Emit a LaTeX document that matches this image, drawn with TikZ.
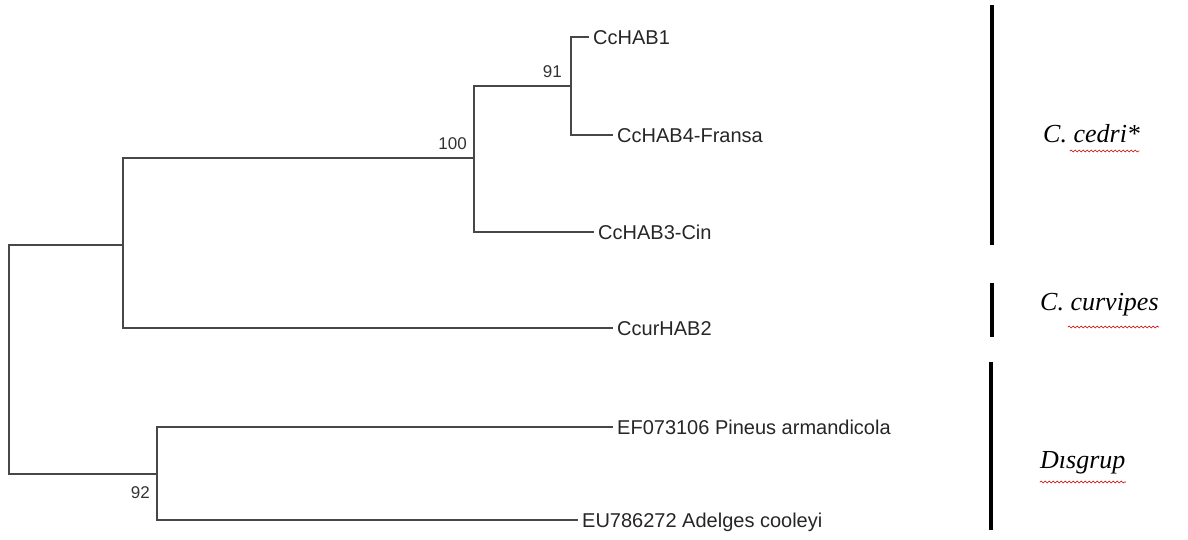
\documentclass[tikz,border=0pt]{standalone}
\usepackage{fontspec}
\setmainfont{Liberation Sans}
\newfontfamily\cladefont{Liberation Serif}
\usetikzlibrary{decorations.pathmorphing}

\begin{document}
\begin{tikzpicture}[
    x=1pt, y=-1pt,
    line cap=rect,
    branch/.style={draw=black!72, line width=1.7pt},
    leaf/.style={anchor=west, inner xsep=5pt, inner ysep=0pt,
        text height=14.3pt, text depth=0pt, text=black!85,
        font=\fontsize{20}{24}\selectfont},
    boot/.style={inner sep=0pt, text height=12.5pt, text depth=0pt,
        text=black!80, font=\fontsize{17}{20}\selectfont},
    clade/.style={anchor=base west, inner sep=0pt,
        font=\cladefont\itshape\fontsize{26}{30}\selectfont},
    cladebar/.style={draw=black, line width=4pt, line cap=butt},
    squiggle/.style={draw=red!80!black, line width=0.6pt,
        decorate, decoration={snake, amplitude=0.9pt, segment length=4pt}},
]

\useasboundingbox (0,0) rectangle (1188,539);

% ---------- internal nodes of the tree ----------
\coordinate (root) at (9,360);
\coordinate (nA)   at (123,245);
\coordinate (n100) at (474,158);
\coordinate (n91)  at (571,86);
\coordinate (n92)  at (157,474);

% ---------- leaves ----------
\node[leaf] (cchab1)  at (588,37)  {CcHAB1};
\node[leaf] (cchab4)  at (612,135) {CcHAB4-Fransa};
\node[leaf] (cchab3)  at (593,232) {CcHAB3-Cin};
\node[leaf] (ccur2)   at (612,328) {CcurHAB2};
\node[leaf] (pineus)  at (612,427) {EF073106 Pineus armandicola};
\node[leaf] (adelges) at (577,520) {EU786272 Adelges cooleyi};

% ---------- branches ----------
\draw[branch] (root) |- (nA);
\draw[branch] (root) |- (n92);
\draw[branch] (nA)   |- (n100);
\draw[branch] (nA)   |- (ccur2);
\draw[branch] (n100) |- (n91);
\draw[branch] (n100) |- (cchab3);
\draw[branch] (n91)  |- (cchab1);
\draw[branch] (n91)  |- (cchab4);
\draw[branch] (n92)  |- (pineus);
\draw[branch] (n92)  |- (adelges);

% bootstrap values
\node[boot, anchor=south east, xshift=-7pt, yshift=8pt]   (b100) at (n100) {100};
\node[boot, anchor=south east, xshift=-9pt, yshift=8pt]   (b91)  at (n91)  {91};
\node[boot, anchor=north east, xshift=-7pt, yshift=-12pt] (b92)  at (n92)  {92};

% ---------- groups on the right ----------
\draw[cladebar] (992,5)   -- (992,245);
\draw[cladebar] (992,283) -- (992,337);
\draw[cladebar] (991,362) -- (991,530);

\node[clade] (cedri)    at (1043,142) {C. cedri*};
\node[clade] (curvipes) at (1040,310) {C. curvipes};
\node[clade] (disgrup)  at (1040,468) {Dısgrup};

% spell-check marks under the names
\draw[squiggle] ([xshift=27pt,yshift=-9pt]cedri.base west) -- ([xshift=-1pt,yshift=-9pt]cedri.base east);
\draw[squiggle] ([xshift=28pt,yshift=-17pt]curvipes.base west) -- ([yshift=-17pt]curvipes.base east);
\draw[squiggle] ([yshift=-14pt]disgrup.base west) -- ([yshift=-14pt]disgrup.base east);

\end{tikzpicture}
\end{document}
